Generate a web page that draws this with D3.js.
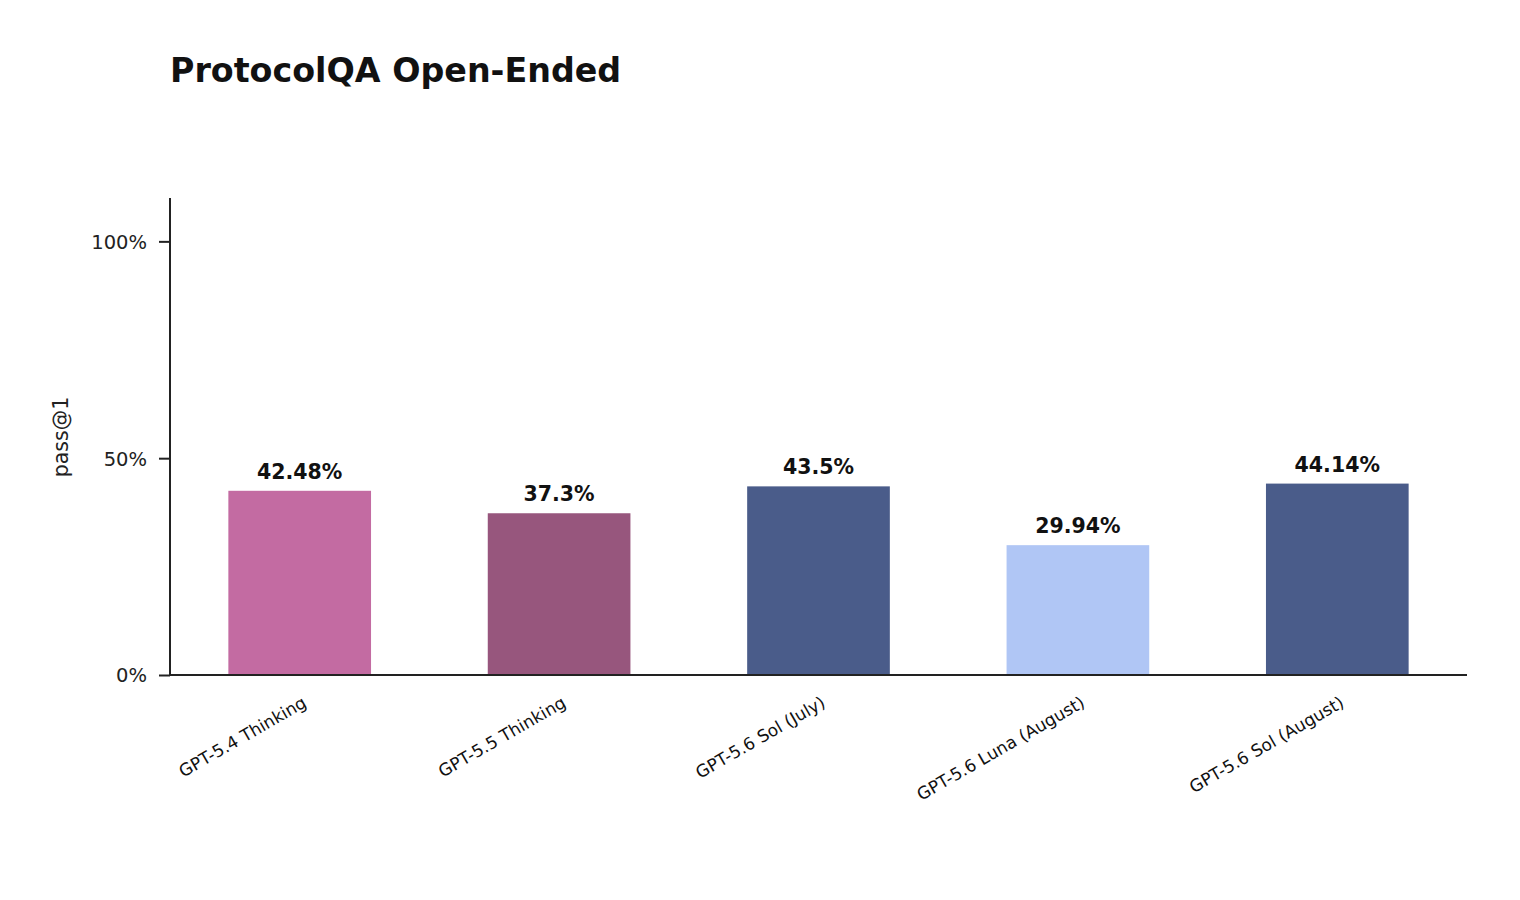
<!DOCTYPE html>
<html>
<head>
<meta charset="utf-8">
<script src="https://cdn.jsdelivr.net/npm/d3@7"></script>
<style>
  html, body { margin: 0; padding: 0; background: #ffffff; }
  svg { display: block; font-family: "DejaVu Sans", sans-serif; }
</style>
</head>
<body>
<svg id="chart" width="1520" height="900"></svg>
<script>
const title = "ProtocolQA Open-Ended";
const yLabel = "pass@1";
const categories = ["GPT-5.4 Thinking", "GPT-5.5 Thinking", "GPT-5.6 Sol (July)", "GPT-5.6 Luna (August)", "GPT-5.6 Sol (August)"];
const values = [42.48, 37.3, 43.5, 29.94, 44.14];
const valueLabels = ["42.48%", "37.3%", "43.5%", "29.94%", "44.14%"];
const colors = ["#c36ba2", "#97567d", "#4a5c8a", "#b0c6f5", "#4a5c8a"];
const yTicks = [0, 50, 100];
const yTickLabels = ["0%", "50%", "100%"];

const svg = d3.select("#chart");
const margin = { left: 170, right: 1467, top: 198, bottom: 675 };

const x = d3.scaleBand().domain(categories).range([margin.left, margin.right]).paddingInner(0.45).paddingOuter(0.225);
const y = d3.scaleLinear().domain([0, 110]).range([margin.bottom, margin.top]);

// bars
svg.append("g").selectAll("rect").data(categories).join("rect")
  .attr("x", d => x(d))
  .attr("width", x.bandwidth())
  .attr("y", (d, i) => y(values[i]))
  .attr("height", (d, i) => y(0) - y(values[i]))
  .attr("fill", (d, i) => colors[i]);

// value labels
svg.append("g").selectAll("text").data(categories).join("text")
  .attr("x", d => x(d) + x.bandwidth() / 2)
  .attr("y", (d, i) => y(values[i]) - 12)
  .attr("text-anchor", "middle")
  .attr("font-size", 20.5)
  .attr("font-weight", "bold")
  .attr("fill", "#111")
  .text((d, i) => valueLabels[i]);

// y axis
const yAxis = d3.axisLeft(y).tickValues(yTicks).tickFormat((d, i) => yTickLabels[i]).tickSize(11).tickPadding(12);
const gy = svg.append("g").attr("transform", `translate(${margin.left},0)`).call(yAxis);
gy.select(".domain").attr("stroke", "#222").attr("stroke-width", 2).attr("d", `M0,${margin.top}V${margin.bottom}`);
gy.selectAll(".tick line").attr("stroke", "#222").attr("stroke-width", 2);
gy.selectAll(".tick text").attr("font-size", 19.5).attr("fill", "#222").attr("font-family", "DejaVu Sans").attr("x", -12 - 11).attr("dy", "0.35em");

// x axis
const xAxis = d3.axisBottom(x).tickSize(0).tickPadding(0);
const gx = svg.append("g").attr("transform", `translate(0,${margin.bottom})`).call(xAxis);
gx.select(".domain").attr("stroke", "#222").attr("stroke-width", 2).attr("d", `M${margin.left},0H${margin.right}`);
gx.selectAll(".tick text")
  .attr("font-size", 17)
  .attr("fill", "#111")
  .attr("font-family", "DejaVu Sans")
  .attr("text-anchor", "end")
  .attr("y", 0).attr("dy", 0)
  .attr("transform", "translate(8,31) rotate(-30)");

// y label
svg.append("text")
  .attr("transform", "translate(68,437) rotate(-90)")
  .attr("text-anchor", "middle")
  .attr("font-size", 20.5)
  .attr("fill", "#222")
  .text(yLabel);

// title
svg.append("text")
  .attr("x", 170).attr("y", 82)
  .attr("font-size", 33.3)
  .attr("font-weight", "bold")
  .attr("fill", "#111")
  .text(title);
</script>
</body>
</html>
